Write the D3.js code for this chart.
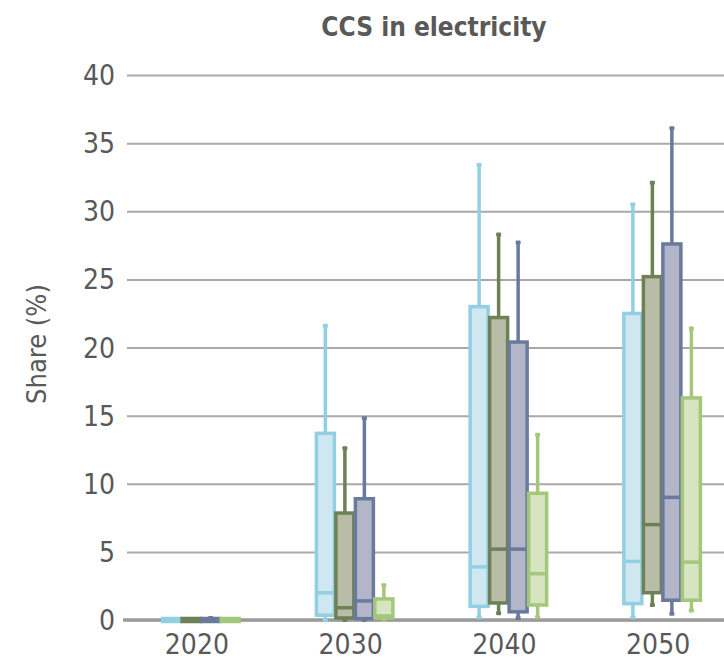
<!DOCTYPE html>
<html>
<head>
<meta charset="utf-8">
<script src="https://cdn.jsdelivr.net/npm/d3@7/dist/d3.min.js"></script>
<style>
  html, body { margin: 0; padding: 0; background: #fff; }
  svg { display: block; }
  text { font-family: "Liberation Sans Narrow", "DejaVu Sans Condensed", "Roboto Condensed", sans-serif; fill: #595959; }
</style>
</head>
<body>
<svg id="chart" width="724" height="665"></svg>
<script>
// Years on the x axis and the four scenario series drawn in each year
const years = ["2020", "2030", "2040", "2050"];
const seriesNames = ["s1", "s2", "s3", "s4"];
const strokeColors = ["#93cfe3", "#6e8055", "#6a7a9c", "#a5c77c"];
const fillColors = ["#cee7f0", "#b9bca6", "#b2b6c8", "#d7e4c0"];
const yTicks = [0, 5, 10, 15, 20, 25, 30, 35, 40];

// Box statistics per series, one entry per year: [min, q1, median, q3, max]
const s1 = [[0, 0, 0, 0, 0], [0, 0.35, 2.0, 13.7, 21.6], [0.2, 1.0, 3.9, 23.0, 33.4], [0.2, 1.2, 4.3, 22.5, 30.5]];
const s2 = [[0, 0, 0, 0, 0], [0, 0.15, 0.9, 7.85, 12.6], [0.5, 1.25, 5.2, 22.2, 28.3], [1.1, 2.0, 7.0, 25.2, 32.1]];
const s3 = [[0, 0, 0, 0, 0.15], [0, 0.1, 1.4, 8.9, 14.8], [0.15, 0.6, 5.2, 20.4, 27.7], [0.45, 1.45, 9.0, 27.6, 36.1]];
const s4 = [[0, 0, 0, 0, 0], [0, 0.15, 0.3, 1.55, 2.55], [0.2, 1.1, 3.4, 9.3, 13.6], [0.7, 1.45, 4.25, 16.3, 21.4]];
const allSeries = [s1, s2, s3, s4];

const svg = d3.select("#chart");

const x = d3.scaleBand().domain(years).range([120, 735]);
const xInner = d3.scaleBand().domain(seriesNames).range([-35, 43]);
const y = d3.scaleLinear().domain([0, 40]).range([620, 75]);

// Title
svg.append("text")
  .attr("x", 434).attr("y", 36)
  .attr("text-anchor", "middle")
  .style("font-size", "26px").style("font-weight", "bold")
  .text("CCS in electricity");

// Y axis label
svg.append("text")
  .attr("transform", "translate(46,344) rotate(-90)")
  .attr("text-anchor", "middle")
  .style("font-size", "27px")
  .text("Share (%)");

// Horizontal gridlines and tick labels
const yAxis = d3.axisLeft(y).tickValues(yTicks).tickSize(-597).tickPadding(12);
const gy = svg.append("g").attr("transform", "translate(127,0)").call(yAxis);
gy.select(".domain").remove();
gy.selectAll(".tick line").attr("stroke", "#a9a9a9").attr("stroke-width", 2);
gy.selectAll(".tick text").style("font-size", "28px").attr("fill", "#595959").attr("dy", "0.34em");

// Boxes
const bw = 18;
allSeries.forEach((series, si) => {
  const g = svg.append("g");
  series.forEach((d, yi) => {
    const cx = x(years[yi]) + x.bandwidth() / 2 + xInner(seriesNames[si]) + xInner.bandwidth() / 2;
    const [mn, q1, md, q3, mx] = d;
    // whisker
    g.append("line")
      .attr("x1", cx).attr("x2", cx)
      .attr("y1", y(mx)).attr("y2", y(mn))
      .attr("stroke", strokeColors[si]).attr("stroke-width", 3.5);
    [mx, mn].forEach(v => {
      g.append("rect")
        .attr("x", cx - 2.5).attr("y", y(v) - 2)
        .attr("width", 5).attr("height", 4)
        .attr("rx", 1)
        .attr("fill", strokeColors[si]);
    });
    const top = y(q3), bot = y(q1);
    const h = Math.max(bot - top, 3);
    g.append("rect")
      .attr("x", cx - bw / 2).attr("y", (top + bot) / 2 - h / 2)
      .attr("width", bw).attr("height", h)
      .attr("fill", fillColors[si])
      .attr("stroke", strokeColors[si]).attr("stroke-width", 3.5);
    if (bot - top > 4) {
      g.append("line")
        .attr("x1", cx - bw / 2).attr("x2", cx + bw / 2)
        .attr("y1", y(md)).attr("y2", y(md))
        .attr("stroke", strokeColors[si]).attr("stroke-width", 3.5);
    }
  });
});

// Zero baseline
svg.append("line")
  .attr("x1", 123).attr("x2", 724)
  .attr("y1", y(0)).attr("y2", y(0))
  .attr("stroke", "#9b9b9b").attr("stroke-width", 3.5)
  .lower();
gy.lower();

// X axis labels
const xAxis = d3.axisBottom(x).tickSize(0).tickPadding(14);
const gx = svg.append("g").attr("transform", "translate(0,620)").call(xAxis);
gx.select(".domain").remove();
gx.selectAll(".tick text").style("font-size", "28px").attr("fill", "#595959");
</script>
</body>
</html>
